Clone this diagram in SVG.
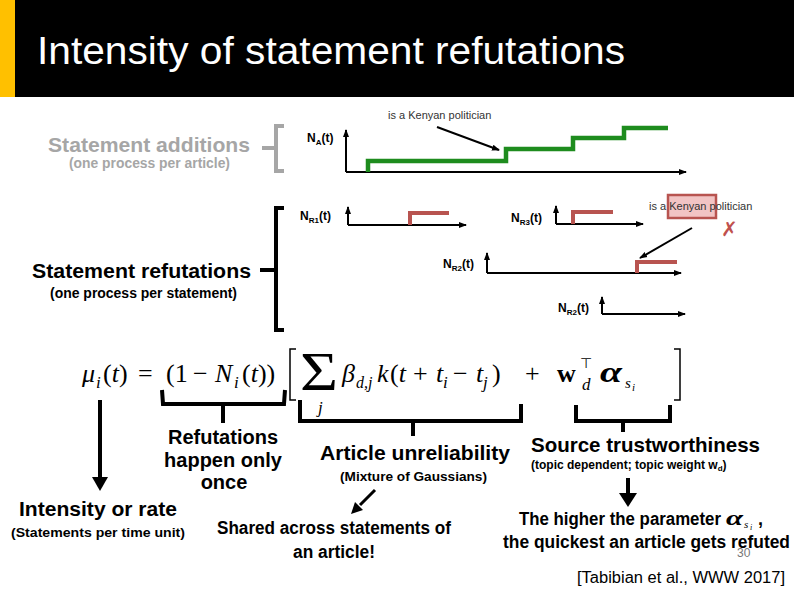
<svg xmlns="http://www.w3.org/2000/svg" width="794" height="595" viewBox="0 0 794 595">
<defs>
<style>
.t{font-family:"Liberation Sans",Arial,sans-serif;font-weight:bold;fill:#000}
.g{fill:#a6a6a6}
.lbl{font-family:"Liberation Sans",Arial,sans-serif;font-weight:bold;font-size:12px;fill:#000}
.sub{font-size:8px}
.ax{stroke:#000;stroke-width:2;fill:none}
.red{stroke:#b85450;stroke-width:4;fill:none}
.grn{stroke:#1e8c1e;stroke-width:4.5;fill:none}
.brace{stroke:#000;stroke-width:4;fill:none}
.m{font-family:"Liberation Serif","Times New Roman",serif;font-size:26px;fill:#000}
.mi{font-style:italic}
.ms{font-size:17px;font-style:italic}
.ann{font-family:"Liberation Sans",Arial,sans-serif;font-size:11px;fill:#333}
</style>
<marker id="ah" markerWidth="8" markerHeight="8" refX="7" refY="4" orient="auto" markerUnits="userSpaceOnUse">
<path d="M0,1 L8,4 L0,7 Z" fill="#000"/>
</marker>
</defs>
<rect width="794" height="595" fill="#fff"/>
<rect x="0" y="0" width="794" height="97" fill="#000"/>
<rect x="0" y="0" width="15" height="97" fill="#ffc000"/>
<text x="37" y="64" font-family="Liberation Sans,Arial,sans-serif" font-size="38" fill="#fff" textLength="588" lengthAdjust="spacingAndGlyphs">Intensity of statement refutations</text>

<g id="additions">
<text class="t g" x="48" y="152" font-size="21" textLength="202" lengthAdjust="spacingAndGlyphs">Statement additions</text>
<text class="t g" x="69" y="168" font-size="14" textLength="161" lengthAdjust="spacingAndGlyphs">(one process per article)</text>
<path d="M284,126 H276 V171 H284 M262,148 H276" stroke="#a6a6a6" stroke-width="4" fill="none"/>
</g>

<g id="refutations">
<text class="t" x="32" y="278" font-size="20" textLength="219" lengthAdjust="spacingAndGlyphs">Statement refutations</text>
<text class="t" x="50" y="298" font-size="14" textLength="187" lengthAdjust="spacingAndGlyphs">(one process per statement)</text>
<path d="M284,208 H276 V330 H284 M260,270 H276" stroke="#000" stroke-width="4" fill="none"/>
</g>

<g id="plot-NA">
<text class="lbl" x="307" y="142">N<tspan class="sub" dy="3">A</tspan><tspan dy="-3">(t)</tspan></text>
<path class="ax" d="M346,172 V130" marker-end="url(#ah)"/>
<path class="ax" d="M346,172 H686" marker-end="url(#ah)"/>
<path class="grn" d="M368,172 V161 H506 V149 H573 V138 H624 V128 H668"/>
<text class="ann" x="388" y="119">is a Kenyan politician</text>
<path d="M437,127 L499,150" stroke="#000" stroke-width="2" fill="none" marker-end="url(#ah)"/>
</g>

<g id="plot-NR1">
<text class="lbl" x="300" y="220">N<tspan class="sub" dy="3">R1</tspan><tspan dy="-3">(t)</tspan></text>
<path class="ax" d="M348,225 V207" marker-end="url(#ah)"/>
<path class="ax" d="M348,225 H466" marker-end="url(#ah)"/>
<path class="red" d="M410,225 V213 H449"/>
</g>

<g id="plot-NR3">
<text class="lbl" x="511" y="222">N<tspan class="sub" dy="3">R3</tspan><tspan dy="-3">(t)</tspan></text>
<path class="ax" d="M556,224 V206" marker-end="url(#ah)"/>
<path class="ax" d="M556,224 H643" marker-end="url(#ah)"/>
<path class="red" d="M573,224 V212 H613"/>
</g>

<g id="kenyan-refuted">
<rect x="668" y="195" width="48" height="23" fill="#f2c4c4" stroke="#b85450" stroke-width="2.5"/>
<text class="ann" x="649" y="210">is a Kenyan politician</text>
<text x="721" y="236" font-family="DejaVu Sans,sans-serif" font-size="20" font-weight="bold" fill="#c0504d">✗</text>
<path d="M692,228 L640,258" stroke="#000" stroke-width="2" fill="none" marker-end="url(#ah)"/>
</g>

<g id="plot-NR2a">
<text class="lbl" x="443" y="268">N<tspan class="sub" dy="3">R2</tspan><tspan dy="-3">(t)</tspan></text>
<path class="ax" d="M487,273 V253" marker-end="url(#ah)"/>
<path class="ax" d="M487,273 H681" marker-end="url(#ah)"/>
<path class="red" d="M637,273 V262 H677"/>
</g>

<g id="plot-NR2b">
<text class="lbl" x="558" y="312">N<tspan class="sub" dy="3">R2</tspan><tspan dy="-3">(t)</tspan></text>
<path class="ax" d="M602,314 V297" marker-end="url(#ah)"/>
<path class="ax" d="M602,314 H685" marker-end="url(#ah)"/>
</g>

<g id="formula">
<text class="m mi" x="82" y="382">μ</text>
<text class="m ms" x="96" y="388">i</text>
<text class="m" x="103" y="382">(<tspan class="mi">t</tspan>)</text>
<text class="m" x="138" y="382">=</text>
<text class="m" x="166" y="382">(1</text>
<text class="m" x="193" y="382">−</text>
<text class="m mi" x="215" y="382">N</text>
<text class="m ms" x="234" y="388">i</text>
<text class="m" x="242" y="382">(<tspan class="mi">t</tspan>))</text>
<path d="M296,349 H290 V400 H296" stroke="#000" stroke-width="1.5" fill="none"/>
<text class="m" x="300" y="390" style="font-size:54px" textLength="38" lengthAdjust="spacingAndGlyphs">Σ</text>
<text class="m ms" x="318" y="413">j</text>
<text class="m mi" x="342" y="382">β</text>
<text class="m ms" x="356" y="388" style="font-size:16px">d,j</text>
<text class="m mi" x="377" y="382">k</text>
<text class="m" x="390" y="382">(<tspan class="mi">t</tspan></text>
<text class="m" x="413" y="382">+</text>
<text class="m mi" x="436" y="382">t</text>
<text class="m ms" x="443" y="388">i</text>
<text class="m" x="453" y="382">−</text>
<text class="m mi" x="476" y="382">t</text>
<text class="m ms" x="483" y="388">j</text>
<text class="m" x="492" y="382">)</text>
<text class="m" x="525" y="382">+</text>
<text class="m" x="557" y="382" font-weight="bold">w</text>
<text class="m ms" x="582" y="390">d</text>
<text class="m" x="580" y="368" style="font-size:14px">⊤</text>
<text class="m mi" x="600" y="382" font-weight="bold" style="font-size:30px" textLength="22" lengthAdjust="spacingAndGlyphs">α</text>
<text class="m ms" x="625" y="388" style="font-size:15px">s</text>
<text class="m ms" x="632" y="391" style="font-size:11px">i</text>
<path d="M674,349 H680 V400 H674" stroke="#000" stroke-width="1.5" fill="none"/>
</g>

<g id="braces">
<path class="brace" d="M162,390 L163,404 H284 L285,390 M223,404 V423"/>
<path class="brace" d="M300,400 V421 H521 V404 M413,421 V436"/>
<path class="brace" d="M576,405 V421 H670 V405 M623,421 V432"/>
</g>

<g id="connectors">
<path d="M100,400 V478" stroke="#000" stroke-width="4" fill="none"/>
<path d="M92,477 L100,491 L108,477 Z" fill="#000"/>
<path d="M628,478 V494" stroke="#000" stroke-width="4" fill="none"/>
<path d="M619,493 L628,507 L637,493 Z" fill="#000"/>
<path d="M375,490 L360,505" stroke="#000" stroke-width="3" fill="none"/>
<path d="M355,502 L351,514 L363,510 Z" fill="#000"/>
</g>

<g id="labels">
<text class="t" font-size="20" text-anchor="middle" x="223" y="444">Refutations</text>
<text class="t" font-size="20" text-anchor="middle" x="223" y="467">happen only</text>
<text class="t" font-size="20" text-anchor="middle" x="224" y="489">once</text>
<text class="t" font-size="20" x="19" y="516" textLength="158" lengthAdjust="spacingAndGlyphs">Intensity or rate</text>
<text class="t" font-size="13" x="11" y="537" textLength="174" lengthAdjust="spacingAndGlyphs">(Statements per time unit)</text>
<text class="t" font-size="20" x="320" y="460" textLength="190" lengthAdjust="spacingAndGlyphs">Article unreliability</text>
<text class="t" font-size="13" x="340" y="481" textLength="147" lengthAdjust="spacingAndGlyphs">(Mixture of Gaussians)</text>
<text class="t" font-size="18" x="217" y="534" textLength="234" lengthAdjust="spacingAndGlyphs">Shared across statements of</text>
<text class="t" font-size="18" x="293" y="558" textLength="82" lengthAdjust="spacingAndGlyphs">an article!</text>
<text class="t" font-size="21" x="531" y="452" textLength="229" lengthAdjust="spacingAndGlyphs">Source trustworthiness</text>
<text class="t" font-size="12" x="531" y="469">(topic dependent; topic weight w<tspan font-size="8" dy="2">d</tspan><tspan dy="-2">)</tspan></text>
<text class="t" font-size="18" x="519" y="525" textLength="202" lengthAdjust="spacingAndGlyphs">The higher the parameter</text>
<text class="m mi" x="726" y="525" font-weight="bold" style="font-size:22px" textLength="17" lengthAdjust="spacingAndGlyphs">α</text>
<text class="m ms" x="744" y="528" style="font-size:11px">s</text>
<text class="m ms" x="750" y="530" style="font-size:8px">i</text>
<text class="t" font-size="18" x="758" y="525">,</text>
<text class="t" font-size="18" x="503" y="548" textLength="287" lengthAdjust="spacingAndGlyphs">the quickest an article gets refuted</text>
<text x="737" y="557" font-family="Liberation Sans,Arial,sans-serif" font-size="12" fill="#777">30</text>
<text x="577" y="583" font-family="Liberation Sans,Arial,sans-serif" font-size="16" fill="#000" textLength="208" lengthAdjust="spacingAndGlyphs">[Tabibian et al., WWW 2017]</text>
</g>
</svg>
